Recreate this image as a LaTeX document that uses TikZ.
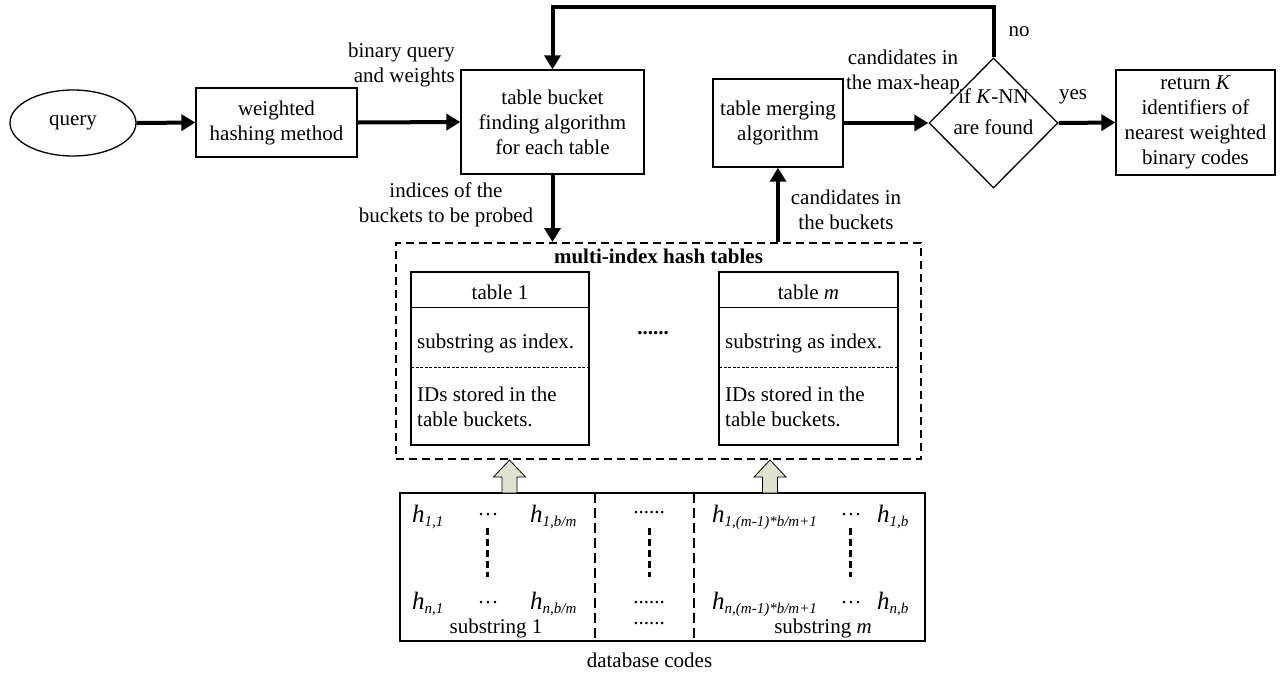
\documentclass[tikz,border=0pt]{standalone}
\usepackage{fontspec}
\setmainfont{Liberation Serif}
\usetikzlibrary{arrows.meta,shapes.geometric}
\definecolor{blockfill}{RGB}{221,227,205}
\newcommand\hsub[1]{{\fontsize{25}{25}\selectfont\textit{h}}\raisebox{-4.5pt}{\fontsize{15}{15}\selectfont\textit{#1}}}
\newcommand\blkarrow[1]{\draw[line width=0.8pt, fill=blockfill] (#1-7.5,493) -- (#1-7.5,477) -- (#1-16,477) -- (#1,460) -- (#1+16,477) -- (#1+7.5,477) -- (#1+7.5,493) -- cycle;}
\begin{document}
\begin{tikzpicture}[x=1pt,y=-1pt, font=\fontsize{21}{25}\selectfont,
  box/.style={draw, line width=1.3pt, align=center, inner sep=2pt},
  flow/.style={line width=4pt, line join=miter, -{Triangle[length=14pt,width=16pt]}},
  lbl/.style={align=center, inner sep=0pt},
  sepline/.style={line width=1.1pt, dash pattern=on 10pt off 5pt},
  vdots/.style={line width=3pt, dash pattern=on 7pt off 4pt},
  thindash/.style={line width=0.8pt, dash pattern=on 3pt off 1.5pt}]
\useasboundingbox (0,0) rectangle (1283,673);

% top row
\node[draw, ellipse, line width=1.3pt, minimum width=126, minimum height=66, inner sep=0pt] (q) at (73,123) {query};
\node[box, minimum width=161, minimum height=69] (wh) at (276.5,122.5) {weighted\\hashing method};
\node[box, minimum width=183, minimum height=104] (tb) at (552.5,122) {table bucket\\finding algorithm\\for each table};
\node[box, minimum width=130, minimum height=88] (tm) at (778,123) {table merging\\algorithm};
\node[draw, diamond, line width=1.3pt, minimum width=129, minimum height=130, inner sep=0pt] (dk) at (993.5,123) {};
\node[lbl] (dkt) at (993.5,112) {if \textit{K}-NN\\[6pt]are found};
\node[box, minimum width=159, minimum height=105] (res) at (1195.5,122.5) {return \textit{K}\\identifiers of\\nearest weighted\\binary codes};

% multi-index box
\node[draw, line width=2pt, dash pattern=on 8pt off 5pt, minimum width=525, minimum height=216, inner sep=0pt] (mi) at (658.5,351) {};
\node[lbl, font=\fontsize{21}{25}\selectfont\bfseries] (mit) at (658.5,256) {multi-index hash tables};

% tables
\node[draw, line width=1.3pt, minimum width=178, minimum height=173, inner sep=0pt] (t1) at (500,358.5) {};
\node[draw, line width=1.3pt, minimum width=179, minimum height=173, inner sep=0pt] (t2) at (808.5,358.5) {};
\draw[line width=1pt] (411,307) -- (589,307);
\draw[line width=1pt] (719,307) -- (898,307);
\draw[thindash] (411,367) -- (589,367);
\draw[thindash] (719,367) -- (898,367);
\node[lbl] (t1h) at (500,292) {table 1};
\node[lbl] (t2h) at (808.5,292) {table \textit{m}};
\node[lbl, anchor=west] (t1a) at (417,343) {substring as index.};
\node[lbl, anchor=west] (t2a) at (725,343) {substring as index.};
\node[lbl, anchor=west, align=left] (t1b) at (417,406.5) {IDs stored in the\\table buckets.};
\node[lbl, anchor=west, align=left] (t2b) at (725,406.5) {IDs stored in the\\table buckets.};
\node[lbl, font=\fontsize{21}{25}\selectfont\bfseries] (mdots) at (653,333) {......};

% database codes
\node[draw, line width=1.3pt, minimum width=525, minimum height=148, inner sep=0pt] (db) at (662.5,567) {};
\draw[sepline] (595,493) -- (595,641);
\draw[sepline] (694,493) -- (694,641);
\draw[vdots] (487,528) -- (487,577);
\draw[vdots] (649,528) -- (649,577);
\draw[vdots] (850,528) -- (850,577);
\blkarrow{509.5}
\blkarrow{770}

\node[lbl, anchor=base west] (a11) at (412,522) {\hsub{1,1}};
\node[lbl] (c11) at (488,517) {···};
\node[lbl, anchor=base west] (a1b) at (530,522) {\hsub{1,b/m}};
\node[lbl, anchor=base west] (an1) at (412,609) {\hsub{n,1}};
\node[lbl] (cn1) at (488,605) {···};
\node[lbl, anchor=base west] (anb) at (530,609) {\hsub{n,b/m}};
\node[lbl, anchor=base] (s1) at (496,633) {substring 1};

\node[lbl] (m1) at (649,513) {......};
\node[lbl] (m2) at (649,603) {......};
\node[lbl] (m3) at (649,624) {......};

\node[lbl, anchor=base west] (b11) at (712,522) {\hsub{1,(m-1)*b/m+1}};
\node[lbl] (d11) at (851,517) {···};
\node[lbl, anchor=base west] (b1b) at (877,522) {\hsub{1,b}};
\node[lbl, anchor=base west] (bn1) at (712,609) {\hsub{n,(m-1)*b/m+1}};
\node[lbl] (dn1) at (851,605) {···};
\node[lbl, anchor=base west] (bnb) at (877,609) {\hsub{n,b}};
\node[lbl, anchor=base] (sm) at (823,633) {substring \textit{m}};

\node[lbl] (dbt) at (649.5,660) {database codes};

% labels
\node[lbl, anchor=east, align=right] (l1) at (455,65) {binary query\\and weights};
\node[lbl] (l2) at (446,205) {indices of the\\buckets to be probed};
\node[lbl] (l3) at (846,210) {candidates in\\the buckets};
\node[lbl] (l4) at (903,72) {candidates in\\the max-heap};
\node[lbl] (lno) at (1019,32) {no};
\node[lbl] (lyes) at (1073,97) {yes};

% connectors
\coordinate (topc) at (552.5,7);
\draw[flow] (q.east) -- (wh.west);
\draw[flow] (wh.east) -- (tb.west);
\draw[flow] (tm.east) -- (dk.west);
\draw[flow] (dk.east) -- (res.west);
\draw[flow] (dk.north) -- (dk.north |- topc) -- (topc) -- (tb.north);
\draw[flow] (tb.south) -- (tb.south |- mi.north);
\draw[flow] (tm.south |- mi.north) -- (tm.south);
\end{tikzpicture}
\end{document}
